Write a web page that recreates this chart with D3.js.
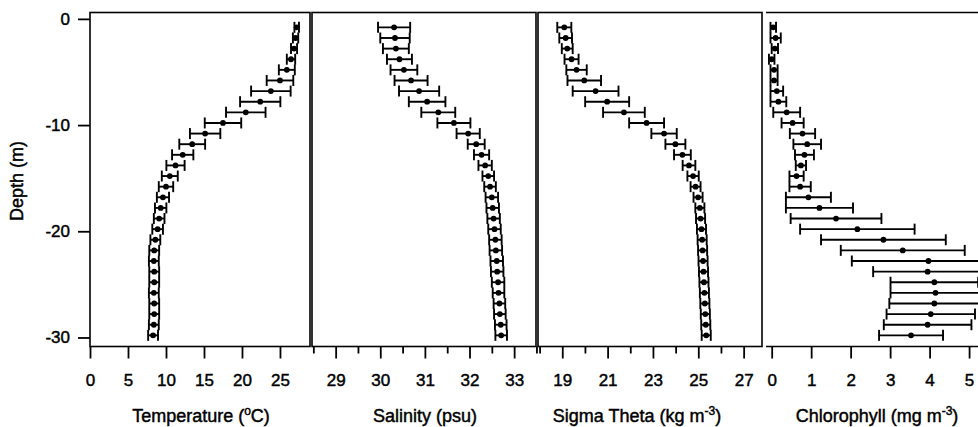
<!DOCTYPE html>
<html>
<head>
<meta charset="utf-8">
<script src="https://cdn.jsdelivr.net/npm/d3@7/dist/d3.min.js"></script>
<style>
body { margin: 0; background: #fff; }
text { font-family: "Liberation Sans", Arial, Helvetica, sans-serif; fill: #000; stroke: #000; stroke-width: 0.45; }
.axis path { display: none; }
.axis line { stroke: #000; stroke-width: 1.8; }
.frame { fill: none; stroke: #000; stroke-width: 1.6; }
.bar { stroke: #000; stroke-width: 1.9; }
</style>
</head>
<body>
<div id="chart-area"></div>
<script>

// Depth of each sample (m)
var depth = [-0.8, -1.8, -2.8, -3.8, -4.8, -5.8, -6.8, -7.8, -8.8, -9.8,
             -10.8, -11.8, -12.8, -13.8, -14.8, -15.8, -16.8, -17.8, -18.8, -19.8,
             -20.8, -21.8, -22.8, -23.8, -24.8, -25.8, -26.8, -27.8, -28.8, -29.8];

// Temperature (C), mean and standard deviation
var temperature = [27.2, 27.05, 26.85, 26.45, 25.9, 25.0, 23.8, 22.4, 20.5, 17.5,
                   15.15, 13.45, 12.2, 11.25, 10.5, 10.0, 9.6, 9.3, 9.1, 8.9,
                   8.6, 8.45, 8.4, 8.45, 8.45, 8.4, 8.45, 8.45, 8.4, 8.3];
var temperatureSd = [0.3, 0.35, 0.4, 0.55, 1.05, 1.75, 2.6, 2.65, 2.6, 2.4,
                     2.0, 1.7, 1.4, 1.2, 1.05, 0.95, 0.8, 0.75, 0.7, 0.7,
                     0.65, 0.65, 0.65, 0.65, 0.65, 0.65, 0.65, 0.65, 0.65, 0.65];

// Salinity (psu)
var salinity = [30.31, 30.33, 30.35, 30.43, 30.53, 30.69, 30.87, 31.05, 31.30, 31.65,
                31.97, 32.15, 32.27, 32.35, 32.42, 32.46, 32.50, 32.52, 32.54, 32.56,
                32.58, 32.59, 32.61, 32.62, 32.64, 32.65, 32.67, 32.68, 32.70, 32.71];
var salinitySd = [0.36, 0.33, 0.29, 0.28, 0.30, 0.37, 0.45, 0.41, 0.38, 0.37,
                  0.26, 0.19, 0.17, 0.15, 0.13, 0.13, 0.14, 0.14, 0.14, 0.14,
                  0.14, 0.14, 0.14, 0.14, 0.14, 0.13, 0.13, 0.13, 0.13, 0.13];

// Sigma theta (kg m-3)
var sigmaTheta = [19.09, 19.15, 19.22, 19.41, 19.63, 19.97, 20.47, 20.98, 21.72, 22.72,
                  23.49, 23.99, 24.30, 24.59, 24.77, 24.88, 24.99, 25.07, 25.10, 25.14,
                  25.17, 25.19, 25.21, 25.23, 25.25, 25.27, 25.29, 25.31, 25.33, 25.35];
var sigmaThetaSd = [0.31, 0.28, 0.24, 0.31, 0.45, 0.74, 1.01, 0.97, 0.92, 0.77,
                    0.56, 0.44, 0.37, 0.28, 0.25, 0.22, 0.2, 0.2, 0.2, 0.2,
                    0.2, 0.2, 0.2, 0.2, 0.2, 0.2, 0.2, 0.2, 0.2, 0.2];

// Chlorophyll (mg m-3)
var chlorophyll = [0.04, 0.10, 0.08, 0.00, 0.06, 0.06, 0.13, 0.17, 0.38, 0.53,
                   0.78, 0.90, 0.83, 0.74, 0.63, 0.72, 0.93, 1.21, 1.63, 2.17,
                   2.83, 3.32, 3.97, 3.95, 4.12, 4.15, 4.12, 4.03, 3.95, 3.53];
var chlorophyllSd = [0.07, 0.13, 0.08, 0.07, 0.09, 0.09, 0.16, 0.20, 0.34, 0.28,
                     0.32, 0.35, 0.24, 0.13, 0.18, 0.27, 0.57, 0.85, 1.15, 1.45,
                     1.58, 1.57, 1.94, 1.38, 1.11, 1.14, 1.14, 1.12, 1.11, 0.81];

// Tick values
var depthTicks = [0, -10, -20, -30];
var temperatureTicks = [0, 5, 10, 15, 20, 25];
var salinityTicks = [29, 30, 31, 32, 33];
var salinityMinor = [28.5, 29.5, 30.5, 31.5, 32.5, 33.5];
var sigmaTicks = [19, 21, 23, 25, 27];
var sigmaMinor = [18, 20, 22, 24, 26];
var chlorophyllTicks = [0, 1, 2, 3, 4, 5];


var width = 978, height = 427;
var plotTop = 12.5, plotBottom = 346.5;

var svg = d3.select("#chart-area").append("svg")
    .attr("width", width)
    .attr("height", height);

// shared depth scale
var y = d3.scaleLinear()
    .domain([0.6, -30.85])
    .range([plotTop, plotBottom]);

var panels = [
    {mean: temperature, sd: temperatureSd, domain: [0, 28.95], left: 90, right: 310,
     ticks: temperatureTicks, minor: [], titleX: 201, box: true,
     title: ["Temperature (", "o", "C)"]},
    {mean: salinity, sd: salinitySd, domain: [28.47, 33.49], left: 312, right: 536,
     ticks: salinityTicks, minor: salinityMinor, titleX: 425, box: true,
     title: ["Salinity (psu)"]},
    {mean: sigmaTheta, sd: sigmaThetaSd, domain: [17.93, 27.81], left: 538, right: 762,
     ticks: sigmaTicks, minor: sigmaMinor, titleX: 637, box: true,
     title: ["Sigma Theta (kg m", "-3", ")"]},
    {mean: chlorophyll, sd: chlorophyllSd, domain: [-0.144, 5.53], left: 766, right: 990,
     ticks: chlorophyllTicks, minor: [], titleX: 877, box: false,
     title: ["Chlorophyll (mg m", "-3", ")"]}
];

panels.forEach(function(p) {
    var x = d3.scaleLinear().domain(p.domain).range([p.left, p.right]);

    // frame
    if (p.box) {
        svg.append("rect")
            .attr("class", "frame")
            .attr("x", p.left)
            .attr("y", plotTop)
            .attr("width", p.right - p.left)
            .attr("height", plotBottom - plotTop);
    } else {
        svg.append("line").attr("class", "frame")
            .attr("x1", p.left).attr("x2", p.right)
            .attr("y1", plotTop).attr("y2", plotTop);
        svg.append("line").attr("class", "frame")
            .attr("x1", p.left).attr("x2", p.right)
            .attr("y1", plotBottom).attr("y2", plotBottom);
    }

    // x axis
    var xAxis = d3.axisBottom(x)
        .tickValues(p.ticks)
        .tickSize(12)
        .tickPadding(15)
        .tickFormat(function(d) { return String(d); });

    var gx = svg.append("g")
        .attr("class", "axis")
        .attr("transform", "translate(0," + plotBottom + ")")
        .call(xAxis);
    gx.selectAll("text")
        .style("font-size", "17px")
        .style("font-family", "'Liberation Sans', Arial, sans-serif")
        .attr("fill", "#000");

    if (p.minor.length) {
        svg.append("g")
            .attr("class", "axis")
            .attr("transform", "translate(0," + plotBottom + ")")
            .call(d3.axisBottom(x).tickValues(p.minor).tickSize(7).tickFormat(""));
    }

    // error bars
    var rows = depth.map(function(d, i) {
        return {depth: d, mean: p.mean[i], sd: p.sd[i]};
    });

    var g = svg.append("g");

    g.selectAll(".bar-h")
        .data(rows)
        .enter().append("line")
        .attr("class", "bar")
        .attr("x1", function(d) { return x(d.mean - d.sd); })
        .attr("x2", function(d) { return x(d.mean + d.sd); })
        .attr("y1", function(d) { return y(d.depth); })
        .attr("y2", function(d) { return y(d.depth); });

    [-1, 1].forEach(function(side) {
        g.selectAll(".cap" + side)
            .data(rows)
            .enter().append("line")
            .attr("class", "bar")
            .attr("x1", function(d) { return x(d.mean + side * d.sd); })
            .attr("x2", function(d) { return x(d.mean + side * d.sd); })
            .attr("y1", function(d) { return y(d.depth) - 5.5; })
            .attr("y2", function(d) { return y(d.depth) + 5.5; });
    });

    g.selectAll("circle")
        .data(rows)
        .enter().append("circle")
        .attr("cx", function(d) { return x(d.mean); })
        .attr("cy", function(d) { return y(d.depth); })
        .attr("r", 2.9)
        .attr("fill", "#000");

    // axis title
    var t = svg.append("text")
        .attr("x", p.titleX)
        .attr("y", 422)
        .attr("text-anchor", "middle")
        .style("font-size", "18px");
    t.append("tspan").text(p.title[0]);
    if (p.title.length > 1) {
        t.append("tspan")
            .attr("dy", -7)
            .style("font-size", "12px")
            .text(p.title[1]);
        t.append("tspan")
            .attr("dy", 7)
            .text(p.title[2]);
    }
});

// y axis
var yAxis = d3.axisLeft(y)
    .tickValues(depthTicks)
    .tickSize(12)
    .tickPadding(8)
    .tickFormat(function(d) { return String(d); });

var gy = svg.append("g")
    .attr("class", "axis")
    .attr("transform", "translate(90,0)")
    .call(yAxis);
gy.selectAll("text")
    .style("font-size", "17px")
    .style("font-family", "'Liberation Sans', Arial, sans-serif")
    .attr("fill", "#000");

svg.append("text")
    .attr("transform", "translate(23,181) rotate(-90)")
    .attr("text-anchor", "middle")
    .style("font-size", "18px")
    .text("Depth (m)");

</script>
</body>
</html>
